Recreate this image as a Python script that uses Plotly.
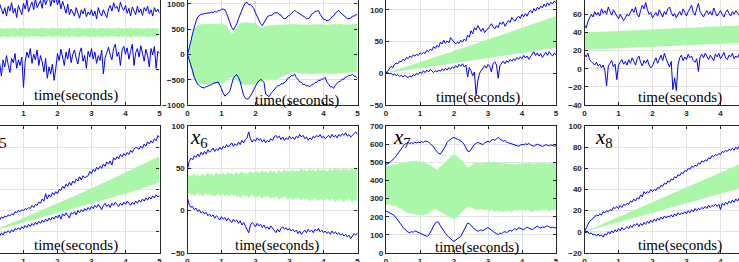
import plotly.graph_objects as go

# ---------------- data ----------------
T = [round(i * 0.05, 2) for i in range(101)]      # time grid, seconds
T_BAND = [0, 1, 2, 3, 4, 5]                        # coarse grid for the smooth bands
TIME_TICKS = [0, 1, 2, 3, 4, 5]

X1_UP = [780, 860, 720, 900, 810, 760, 930, 840, 790, 880,
         760, 900, 830, 950, 800, 870, 740, 910, 850, 780,
         940, 860, 990, 820, 900, 960, 850, 1010, 880, 930,
         980, 870, 1040, 920, 990, 1060, 900, 1010, 950, 1030,
         920, 1000, 860, 970, 890, 800, 930, 780, 860, 820,
         760, 880, 800, 730, 850, 790, 870, 750, 820, 780,
         850, 760, 830, 720, 880, 800, 760, 850, 790, 740,
         860, 910, 830, 950, 870, 900, 820, 960, 880, 840,
         910, 800, 870, 760, 890, 820, 780, 900, 810, 860,
         770, 880, 830, 900, 790, 850, 760, 880, 820, 860,
         800]
X1_LO = [150, 60, 220, 110, -20, 180, 90, -90, 140, 40,
         200, 70, -40, 160, 100, 230, 20, 140, 60, 180,
         -250, 120, 250, 170, 300, 90, 220, 140, 280, 60,
         200, 110, -30, 160, -120, 40, -60, 80, -150, 20,
         230, 130, 290, 180, 60, 250, 150, 300, 100, 220,
         280, 160, 80, 240, 310, 120, 200, 20, 260, 180,
         300, 150, 250, 90, 200, 130, 280, -60, 170, 240,
         320, 210, 140, 300, 360, 190, 250, 60, 280, 330,
         220, 310, 150, 260, 360, 60, 240, 300, 180, 340,
         250, 120, 290, 200, 40, 300, 210, 330, 20, 260,
         230]
X1_BAND_UP = [582, 594, 576, 589, 597, 579, 586, 599, 575, 591,
              583, 596, 578, 590, 584, 598, 577, 588, 593, 580,
              587, 599, 576, 592, 585, 579, 595, 583, 590, 577,
              594, 586, 598, 580, 589, 576, 592, 584, 597, 581,
              588, 579, 595, 583, 591, 577, 586, 598, 582, 590,
              579, 593, 585, 597, 581, 588, 576, 592, 584, 595,
              580, 589, 596, 578, 591, 583, 599, 586, 577, 593,
              584, 590, 578, 595, 582, 588, 597, 580, 592, 585,
              576, 594, 583, 598, 587, 579, 591, 584, 596, 581,
              589, 577, 593, 585, 598, 580, 590, 583, 595, 578,
              587]
X1_BAND_LO = [471, 462, 478, 466, 459, 475, 468, 457, 479, 465,
              472, 460, 476, 467, 474, 458, 478, 469, 463, 476,
              466, 457, 477, 464, 471, 478, 461, 473, 466, 479,
              460, 470, 458, 475, 467, 480, 463, 472, 459, 474,
              468, 477, 461, 473, 465, 479, 469, 458, 474, 466,
              478, 462, 471, 459, 476, 467, 480, 463, 472, 460,
              475, 466, 458, 477, 464, 473, 457, 470, 479, 462,
              471, 465, 477, 460, 474, 467, 458, 476, 463, 470,
              479, 461, 472, 457, 469, 477, 464, 473, 460, 475,
              466, 478, 462, 471, 458, 476, 465, 473, 461, 478,
              469]

X2_UP = [0, 110, 262, 415, 565, 655, 738, 770, 796, 792,
         812, 808, 820, 814, 836, 822, 850, 834, 866, 864,
         892, 896, 884, 812, 726, 612, 528, 486, 548, 604,
         708, 792, 898, 952, 1016, 1030, 984, 982, 954, 908,
         822, 748, 662, 608, 566, 618, 672, 748, 764, 768,
         782, 818, 828, 826, 784, 776, 722, 706, 714, 756,
         774, 806, 834, 870, 846, 826, 794, 790, 754, 736,
         704, 708, 732, 796, 814, 846, 854, 866, 794, 738,
         694, 686, 664, 672, 694, 748, 762, 818, 844, 872,
         824, 798, 758, 746, 708, 706, 714, 756, 758, 782,
         786]
X2_LO = [0, -100, -205, -325, -455, -535, -595, -615, -650, -655,
         -662, -635, -630, -605, -605, -575, -565, -540, -545, -605,
         -695, -765, -825, -795, -765, -715, -605, -465, -425, -400,
         -455, -535, -685, -805, -865, -885, -875, -825, -765, -695,
         -625, -565, -525, -495, -515, -555, -785, -805, -835, -775,
         -735, -680, -660, -620, -618, -580, -585, -555, -530, -470,
         -460, -420, -420, -390, -460, -490, -545, -550, -600, -590,
         -625, -615, -640, -600, -595, -555, -555, -510, -515, -485,
         -485, -455, -550, -590, -640, -640, -670, -610, -580, -535,
         -530, -490, -490, -445, -445, -410, -420, -390, -430, -435,
         -470]
X2_BAND_UP = [0, 160, 300, 420, 500, 550, 575, 590, 600, 585,
              605, 595, 612, 598, 608, 592, 610, 596, 606, 590,
              604, 594, 585, 560, 510, 455, 420, 430, 480, 550,
              600, 625, 615, 635, 620, 640, 625, 632, 618, 628,
              610, 585, 560, 540, 535, 548, 560, 575, 565, 580,
              570, 585, 575, 590, 578, 595, 582, 598, 586, 600,
              588, 604, 592, 606, 590, 600, 585, 598, 584, 596,
              582, 594, 580, 595, 585, 600, 588, 602, 590, 598,
              584, 596, 582, 594, 586, 600, 590, 604, 592, 606,
              594, 600, 586, 598, 584, 596, 588, 602, 592, 604,
              596]
X2_BAND_LO = [0, -160, -300, -420, -500, -545, -570, -585, -596, -582,
              -600, -588, -598, -580, -594, -576, -588, -572, -584, -570,
              -580, -566, -560, -530, -490, -465, -455, -460, -480, -520,
              -560, -585, -598, -588, -600, -590, -602, -592, -600, -586,
              -594, -575, -560, -540, -520, -505, -495, -502, -490, -498,
              -486, -494, -480, -488, -470, -460, -440, -420, -400, -385,
              -370, -355, -345, -340, -358, -370, -380, -372, -385, -375,
              -388, -378, -390, -380, -392, -382, -390, -376, -386, -372,
              -380, -366, -378, -386, -394, -382, -390, -376, -384, -370,
              -378, -364, -372, -358, -366, -352, -360, -348, -356, -362,
              -370]

X3_UP = [0, 4, 7, 11, 9, 14, 16, 15, 19, 18,
         22, 20, 25, 23, 27, 25, 29, 27, 30, 28,
         32, 30, 33, 31, 36, 34, 38, 36, 42, 39,
         44, 41, 49, 46, 52, 47, 51, 48, 56, 53,
         50, 46, 49, 47, 52, 49, 54, 51, 60, 57,
         67, 62, 72, 68, 75, 70, 66, 71, 64, 68,
         70, 74, 78, 73, 70, 75, 72, 80, 77, 81,
         74, 79, 83, 80, 88, 84, 82, 87, 90, 86,
         93, 89, 94, 90, 96, 99, 95, 102, 98, 104,
         101, 106, 103, 109, 105, 111, 107, 112, 109, 114,
         111]
X3_LO = [0, 1, -1, 0, -3, -1, -4, -2, -5, -3,
         -6, -3, -5, -7, -4, -6, -2, -4, 0, -2,
         2, 0, 4, 1, 5, 2, 6, 3, 1, 4,
         2, 5, 3, 7, 4, 8, 5, 9, 6, 10,
         8, 12, 9, 14, 11, 15, 10, 13, -6, 9,
         4, -4, 2, -34, -12, 0, 4, 9, 12, 8,
         14, 11, 2, 15, 18, 13, -8, 12, 16, 19,
         15, 20, 17, 22, 19, 23, 20, 25, 22, 26,
         23, 28, 24, 27, 22, 26, 31, 34, 28, 32,
         27, 31, 25, 29, 33, 28, 34, 30, 27, 32,
         29]
X3_BAND_UP = [0, 17, 35, 53, 71, 90]
X3_BAND_LO = [0, 8, 16, 24, 32, 40]

X4_UP = [48, 45, 52, 56, 60, 57, 63, 59, 62, 58,
         66, 61, 64, 60, 68, 63, 59, 65, 62, 58,
         55, 60, 57, 53, 56, 60, 58, 63, 66, 62,
         68, 60, 57, 64, 70, 66, 73, 65, 60, 62,
         56, 59, 62, 58, 65, 61, 57, 63, 60, 66,
         68, 62, 58, 61, 56, 60, 63, 59, 66, 62,
         58, 63, 67, 70, 62, 59, 66, 72, 63, 60,
         57, 61, 64, 60, 63, 59, 67, 62, 58, 61,
         64, 60, 57, 62, 65, 61, 58, 63, 60, 64,
         61, 59, 63, 60, 62, 58, 63, 60, 62, 59,
         61]
X4_LO = [16, 13, 17, 10, 8, 6, 4, 7, 3, 5,
         1, 4, -2, -19, 3, 6, 9, 2, 5, -12,
         4, 7, 10, 5, 8, 4, 10, 6, 12, 8,
         4, 11, 14, 7, 3, 9, 6, 10, 4, 1,
         3, 8, 12, 6, 10, 15, 9, 17, 11, 6,
         2, 8, -23, -10, -24, 4, 12, 15, 9, 13,
         10, 16, 12, 14, 9, 7, 11, -3, 13, 16,
         12, 17, 14, 10, 15, 12, 9, 16, 13, 17,
         11, 14, 18, 12, 10, 15, 13, 17, 11, 14,
         12, 16, 13, 10, 15, 12, 16, 13, 11, 15,
         13]
X4_BAND_UP = [40, 41.7, 43.4, 45.1, 46.8, 48.5]
X4_BAND_LO = [21, 22.6, 24.2, 25.8, 27.4, 29]

X5_UP = [0, 3, 5, 8, 9, 12, 11, 14, 13, 15,
         14, 16, 15, 17, 16, 19, 18, 20, 19, 21,
         20, 22, 21, 23, 22, 25, 23, 26, 25, 28,
         27, 31, 29, 36, 31, 35, 33, 37, 35, 38,
         36, 40, 39, 43, 41, 45, 43, 47, 44, 48,
         46, 50, 48, 52, 49, 53, 51, 52, 53, 57,
         55, 59, 57, 61, 59, 62, 60, 64, 62, 66,
         64, 67, 63, 70, 68, 71, 69, 73, 71, 74,
         72, 75, 73, 77, 75, 78, 80, 79, 78, 81,
         79, 83, 81, 85, 83, 86, 84, 88, 86, 91,
         89]
X5_LO = [0, -1, -2, -1, -3, -2, -4, -1, -3, 0,
         -1, 1, -1, 2, 0, 3, 2, 4, 2, 5,
         3, 6, 4, 7, 5, 8, 6, 9, 7, 10,
         8, 11, 9, 12, 10, 13, 11, 14, 12, 15,
         13, 16, 12, 17, 15, 18, 16, 13, 18, 17,
         19, 16, 20, 18, 21, 19, 22, 20, 23, 21,
         24, 22, 25, 23, 26, 24, 21, 25, 27, 24,
         26, 23, 27, 25, 28, 26, 24, 27, 25, 28,
         26, 29, 27, 25, 28, 26, 29, 27, 30, 28,
         31, 29, 32, 30, 33, 31, 34, 32, 35, 33,
         34]
X5_BAND_UP = [0, 13, 27, 41, 56, 71.5]
X5_BAND_LO = [0, 9, 18, 27, 36, 46.5]

X6_UP = [49, 58, 62, 60, 65, 63, 67, 64, 69, 66,
         70, 67, 72, 69, 71, 74, 70, 73, 71, 75,
         72, 76, 74, 78, 75, 77, 80, 76, 79, 77,
         81, 78, 83, 80, 84, 86, 93, 85, 81, 84,
         82, 86, 83, 85, 81, 84, 80, 83, 81, 85,
         83, 87, 89, 86, 88, 84, 87, 83, 86, 84,
         88, 85, 87, 84, 88, 86, 90, 87, 89, 85,
         87, 83, 86, 84, 88, 86, 89, 87, 90, 86,
         88, 85, 87, 89, 86, 90, 87, 89, 86, 90,
         88, 91, 89, 92, 88, 90, 87, 89, 91, 93,
         90]
X6_LO = [15, 7, 4, 5, 1, 3, -1, 1, -3, -1,
         -4, -2, -6, -4, -7, -5, -9, -6, -8, -11,
         -7, -10, -8, -12, -9, -11, -14, -10, -13, -11,
         -15, -12, -17, -14, -18, -21, -26, -17, -14, -16,
         -19, -15, -18, -16, -20, -17, -21, -19, -22, -18,
         -21, -24, -26, -22, -25, -21, -19, -22, -20, -23,
         -21, -24, -22, -25, -23, -27, -24, -28, -25, -23,
         -26, -22, -25, -23, -26, -22, -24, -21, -25, -23,
         -26, -24, -27, -25, -28, -24, -27, -25, -28, -26,
         -29, -27, -30, -28, -31, -29, -33, -30, -27, -29,
         -26]
X6_BAND_UP = [41, 43, 40, 42, 44, 41, 43, 40, 42, 44,
              41, 43, 45, 42, 44, 41, 43, 45, 42, 44,
              43, 45, 42, 44, 46, 43, 45, 42, 44, 46,
              43, 45, 47, 44, 46, 43, 45, 47, 44, 46,
              45, 47, 44, 46, 48, 45, 47, 44, 46, 48,
              45, 47, 44, 46, 48, 45, 47, 49, 46, 48,
              45, 47, 49, 46, 48, 46, 48, 50, 47, 49,
              46, 48, 50, 47, 49, 46, 48, 50, 47, 49,
              47, 49, 46, 48, 50, 47, 49, 51, 48, 50,
              47, 49, 51, 48, 50, 47, 49, 51, 48, 50,
              49]
X6_BAND_LO = [19, 21, 18, 20, 17, 19, 21, 18, 20, 17,
              19, 21, 18, 20, 17, 19, 16, 18, 20, 17,
              18, 20, 17, 19, 16, 18, 20, 17, 19, 16,
              18, 15, 17, 19, 16, 18, 15, 17, 19, 16,
              17, 15, 18, 16, 14, 17, 15, 18, 16, 14,
              16, 14, 17, 15, 13, 16, 14, 17, 15, 13,
              16, 14, 12, 15, 13, 16, 14, 12, 15, 13,
              15, 13, 11, 14, 12, 15, 13, 11, 14, 12,
              14, 12, 15, 13, 11, 14, 12, 10, 13, 11,
              14, 12, 10, 13, 11, 14, 12, 10, 13, 11,
              12]

X7_UP = [488, 492, 497, 505, 512, 524, 535, 548, 560, 572,
         588, 600, 604, 610, 603, 608, 604, 611, 606, 612,
         608, 614, 610, 618, 615, 612, 604, 596, 584, 570,
         560, 548, 546, 558, 574, 590, 610, 620, 628, 634,
         637, 630, 627, 624, 618, 610, 598, 578, 562, 558,
         570, 588, 598, 604, 610, 605, 600, 598, 607, 612,
         616, 610, 622, 627, 620, 630, 637, 628, 622, 616,
         620, 611, 608, 604, 600, 597, 594, 590, 588, 594,
         599, 596, 602, 598, 604, 596, 590, 588, 595, 600,
         596, 590, 587, 592, 597, 594, 590, 596, 592, 589,
         591]
X7_LO = [232, 228, 224, 218, 212, 205, 194, 182, 168, 155,
         142, 130, 122, 115, 112, 118, 114, 122, 118, 112,
         108, 104, 100, 97, 92, 95, 110, 130, 150, 165,
         172, 168, 150, 134, 120, 108, 96, 86, 80, 70,
         64, 70, 76, 84, 92, 110, 128, 150, 165, 162,
         150, 140, 132, 126, 120, 124, 128, 122, 130, 136,
         140, 132, 124, 118, 112, 106, 102, 110, 106, 114,
         118, 112, 122, 126, 120, 130, 134, 128, 140, 136,
         130, 128, 136, 142, 138, 132, 128, 136, 144, 148,
         142, 138, 144, 140, 146, 150, 144, 138, 142, 140,
         138]
X7_BAND_UP = [480, 483, 478, 486, 490, 485, 494, 490, 498, 494,
              502, 498, 506, 502, 508, 503, 510, 505, 508, 502,
              506, 500, 504, 498, 494, 490, 484, 478, 470, 464,
              460, 468, 476, 486, 494, 502, 512, 520, 530, 538,
              544, 540, 532, 526, 518, 506, 494, 480, 470, 472,
              482, 490, 496, 500, 494, 498, 492, 500, 495, 502,
              497, 504, 498, 506, 500, 496, 502, 494, 499, 492,
              497, 490, 495, 488, 494, 486, 492, 487, 494, 489,
              496, 490, 497, 492, 499, 494, 490, 496, 491, 498,
              493, 499, 494, 500, 495, 491, 497, 492, 498, 494,
              496]
X7_BAND_LO = [268, 264, 270, 262, 258, 262, 254, 250, 248, 242,
              236, 230, 226, 220, 216, 222, 212, 218, 210, 214,
              206, 212, 206, 214, 212, 220, 228, 234, 240, 244,
              240, 236, 228, 222, 216, 212, 208, 204, 198, 192,
              186, 190, 198, 206, 214, 226, 238, 248, 256, 258,
              252, 246, 240, 236, 242, 236, 244, 238, 234, 240,
              234, 230, 238, 232, 226, 234, 228, 224, 232, 226,
              234, 228, 236, 230, 226, 234, 238, 232, 240, 234,
              242, 236, 230, 238, 232, 228, 224, 232, 236, 230,
              238, 232, 240, 234, 240, 236, 230, 238, 234, 240,
              236]

X8_UP = [0, 4, 7, 10, 11, 13, 14, 16, 15, 17,
         16, 19, 18, 20, 19, 21, 20, 23, 22, 24,
         22, 25, 23, 26, 25, 27, 26, 29, 28, 31,
         29, 32, 31, 35, 33, 38, 36, 38, 37, 40,
         38, 40, 39, 42, 41, 44, 43, 46, 45, 48,
         47, 50, 49, 52, 51, 54, 53, 56, 55, 58,
         57, 60, 59, 62, 61, 63, 62, 65, 64, 67,
         66, 68, 67, 70, 69, 72, 71, 73, 72, 74,
         73, 76, 75, 77, 76, 78, 77, 79, 77, 80,
         78, 81, 79, 82, 80, 82, 81, 83, 82, 84,
         83]
X8_LO = [0, -1, 0, -2, -1, -3, -2, -4, -2, -4,
         -3, -5, -2, -3, 0, -2, 1, -1, 2, 0,
         3, 1, 4, 2, 3, 5, 3, 6, 4, 7,
         6, 8, 5, 8, 6, 9, 7, 10, 8, 11,
         9, 12, 10, 13, 11, 14, 12, 15, 13, 15,
         14, 16, 14, 17, 15, 18, 16, 18, 17, 19,
         17, 20, 18, 21, 19, 22, 20, 22, 21, 23,
         22, 24, 22, 25, 23, 25, 24, 26, 24, 26,
         21, 27, 25, 28, 26, 29, 27, 30, 28, 31,
         29, 32, 30, 33, 31, 33, 32, 34, 32, 35,
         33]
X8_BAND_UP = [0, 14, 28, 42, 56, 70]
X8_BAND_LO = [0, 9, 18, 27, 36, 45]

XLABEL = "time(seconds)"

# ---------------- layout constants (pixels of the 739x262 view) ----------------
W, H = 739, 262
INK = '#262626'
GRID = '#e3e3e3'
BAND = 'rgb(170,247,170)'
BLUE = '#0000ff'
SERIF = 'Liberation Serif, Times New Roman, serif'
TICKFONT = dict(family='Liberation Sans, Arial, sans-serif', size=8, color=INK, weight='bold')

COLS = [(0.0, 159.5), (187.5, 357.5), (386.0, 556.0), (584.5, 739.0)]
ROWS = [(0.0, 105.0), (126.0, 253.0)]

PANELS = [
    dict(up=X1_UP, lo=X1_LO, bt=T, bu=X1_BAND_UP, bl=X1_BAND_LO, col=0, row=0,
         xr=[0.309, 5], yr=[-500, 988], yt=[-500, 0, 500, 1000], L=False, R=True, top=False, lab=False,
         title=None, xl=(76, 96)),
    dict(up=X2_UP, lo=X2_LO, bt=T, bu=X2_BAND_UP, bl=X2_BAND_LO, col=1, row=0,
         xr=[0, 5], yr=[-1000, 1075], yt=[-1000, -500, 0, 500, 1000], L=True, R=True, top=False, lab=True,
         title=None, xl=(297, 101)),
    dict(up=X3_UP, lo=X3_LO, bt=T_BAND, bu=X3_BAND_UP, bl=X3_BAND_LO, col=2, row=0,
         xr=[0, 5], yr=[-50, 115.4], yt=[-50, 0, 50, 100], L=True, R=True, top=False, lab=True,
         title=None, xl=(478, 97)),
    dict(up=X4_UP, lo=X4_LO, bt=T_BAND, bu=X4_BAND_UP, bl=X4_BAND_LO, col=3, row=0,
         xr=[0, 4.544], yr=[-40, 75.75], yt=[-40, -20, 0, 20, 40, 60], L=True, R=False, top=False, lab=True,
         title=None, xl=(680, 97)),
    dict(up=X5_UP, lo=X5_LO, bt=T_BAND, bu=X5_BAND_UP, bl=X5_BAND_LO, col=0, row=1,
         xr=[0.309, 5], yr=[-20, 100], yt=[-20, 0, 20, 40, 60, 80, 100], L=False, R=True, top=True, lab=False,
         title=('5', -13), xl=(76, 245)),
    dict(up=X6_UP, lo=X6_LO, bt=T, bu=X6_BAND_UP, bl=X6_BAND_LO, col=1, row=1,
         xr=[0, 5], yr=[-50, 100], yt=[-50, 0, 50, 100], L=True, R=True, top=True, lab=True,
         title=('6', 187.5), xl=(277, 245)),
    dict(up=X7_UP, lo=X7_LO, bt=T, bu=X7_BAND_UP, bl=X7_BAND_LO, col=2, row=1,
         xr=[0, 5], yr=[0, 700], yt=[0, 100, 200, 300, 400, 500, 600, 700], L=True, R=True, top=True, lab=True,
         title=('7', 391), xl=(477, 247)),
    dict(up=X8_UP, lo=X8_LO, bt=T_BAND, bu=X8_BAND_UP, bl=X8_BAND_LO, col=3, row=1,
         xr=[0, 4.544], yr=[-20, 100], yt=[-20, 0, 20, 40, 60, 80, 100], L=True, R=False, top=True, lab=True,
         title=('8', 592.5), xl=(680, 245)),
]

fig = go.Figure()
layout = dict(width=W, height=H, margin=dict(l=0, r=0, t=0, b=0, pad=0, autoexpand=False),
              paper_bgcolor='white', plot_bgcolor='white', showlegend=False)
annotations = []

for i, p in enumerate(PANELS, start=1):
    xa, ya = ('x' if i == 1 else f'x{i}'), ('y' if i == 1 else f'y{i}')
    x0, x1 = COLS[p['col']]
    r0, r1 = ROWS[p['row']]
    # band (fill between upper and lower envelope)
    fig.add_trace(go.Scatter(x=p['bt'] + p['bt'][::-1], y=p['bu'] + p['bl'][::-1],
                             fill='toself', fillcolor=BAND, line=dict(width=0),
                             mode='lines', hoverinfo='skip', xaxis=xa, yaxis=ya))
    for series in (p['up'], p['lo']):
        fig.add_trace(go.Scatter(x=T, y=series, mode='lines',
                                 line=dict(color=BLUE, width=1), xaxis=xa, yaxis=ya))

    layout['xaxis' if i == 1 else f'xaxis{i}'] = dict(
        domain=[x0 / W, x1 / W], range=p['xr'], tickvals=TIME_TICKS, automargin=False,
        ticklabeloverflow='allow',
        showgrid=True, gridcolor=GRID, gridwidth=1, zeroline=False,
        showline=True, linecolor=INK, linewidth=1.2,
        ticks='inside', ticklen=3, tickcolor=INK, tickwidth=1,
        mirror='ticks' if p['top'] else False,
        tickfont=TICKFONT, anchor=ya)
    mirror_y = 'ticks' if (p['L'] and p['R']) else False
    layout['yaxis' if i == 1 else f'yaxis{i}'] = dict(
        domain=[1 - r1 / H, 1 - r0 / H], range=p['yr'], tickvals=p['yt'], automargin=False,
        ticklabeloverflow='allow',
        showgrid=True, gridcolor=GRID, gridwidth=1, zeroline=False,
        showline=True, linecolor=INK, linewidth=1.2,
        side='left' if p['L'] else 'right', mirror=mirror_y,
        ticks='inside', ticklen=3, tickcolor=INK, tickwidth=1,
        showticklabels=p['lab'], tickfont=TICKFONT, anchor=xa)

    cx, cy = p['xl']
    annotations.append(dict(text=XLABEL, x=cx / W, y=1 - cy / H, xref='paper', yref='paper',
                            xanchor='center', yanchor='middle', showarrow=False,
                            font=dict(family=SERIF, size=15, color='black')))
    if p['title']:
        sub, tx = p['title']
        annotations.append(dict(text=f'<i>x</i><sub>{sub}</sub>', x=tx / W, y=1 - 123 / H,
                                xref='paper', yref='paper', xanchor='left', yanchor='top',
                                showarrow=False,
                                font=dict(family=SERIF, size=21, color='black')))

layout['annotations'] = annotations
fig.update_layout(**layout)
fig.write_html("out.html", config={'displayModeBar': False},
               post_script="document.body.style.margin='0';document.body.style.overflow='hidden';")
